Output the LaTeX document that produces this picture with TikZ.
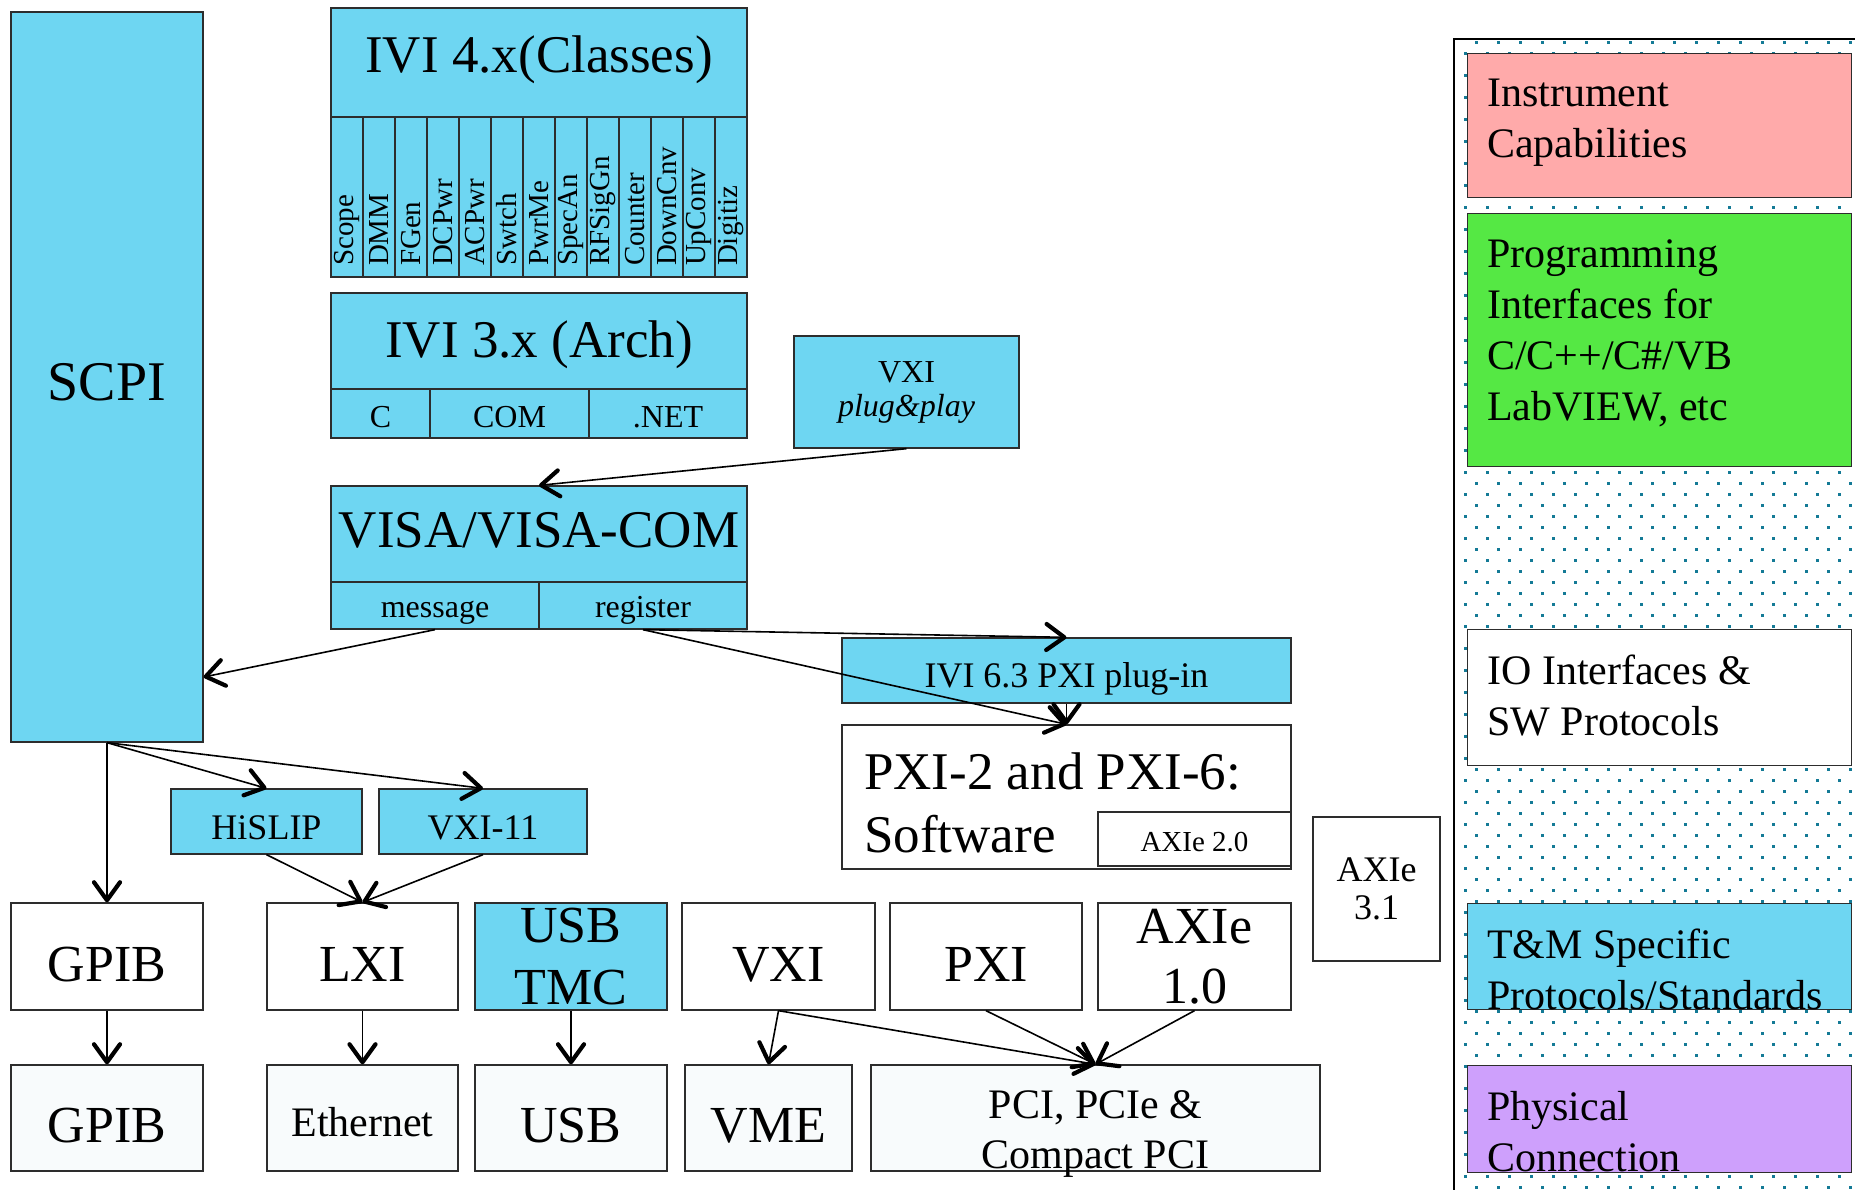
\documentclass[tikz,border=0pt]{standalone}
\usepackage{fontspec}
\setmainfont{Liberation Serif}
\usetikzlibrary{arrows.meta}

\definecolor{visablue}{RGB}{110,214,242}
\definecolor{cappink}{RGB}{255,170,170}
\definecolor{proggreen}{RGB}{85,232,68}
\definecolor{physpurple}{RGB}{206,160,252}
\definecolor{physwhite}{RGB}{248,251,252}
\definecolor{dotteal}{RGB}{20,122,150}
\definecolor{edge}{RGB}{45,45,45}

\newcommand\fsz[2]{\fontsize{#1}{#2}\selectfont} % #1 size, #2 baselineskip

\begin{document}
\begin{tikzpicture}[x=1pt, y=-1pt,
    blk/.style={draw=edge, line width=1.3pt, fill=visablue, inner sep=0pt, align=center},
    wbox/.style={blk, fill=white},
    pbox/.style={blk, fill=physwhite},
    oneline/.style={text height=#1, text depth=0pt},
    cls/.style={blk, rotate=90, minimum width=160pt, minimum height=32pt, inner xsep=11pt, text width=138pt, align=left, font=\fsz{29}{34}},
    legend/.style={draw=edge, line width=1.3pt, anchor=north west, minimum width=384pt},
    legtxt/.style={anchor=north west, inner sep=0pt, align=left, font=\fsz{42}{51}},
    conn/.style={line width=1.6pt, -{Straight Barb[length=18pt, width=26pt, line width=4.2pt, round]}}]
        \useasboundingbox (0,0) rectangle (1855,1190);

        % --------------------------------------------------
        % legend panel
        \foreach \j in {0,...,52}
            \foreach \i in {0,...,17} {
                \fill[dotteal] (1474.5+22*\i,41.5+22*\j) rectangle +(3,3);
                \fill[dotteal] (1463.5+22*\i,52.5+22*\j) rectangle +(3,3);
            }
        \draw[line width=1.8pt] (1454,1190) -- (1454,39) -- (1855,39);

        \node[legend, fill=cappink, minimum height=144pt] (capbox) at (1467,53) {};
        \node[legtxt] (captxt) at ([shift={(20,26)}]capbox.north west) {Instrument\\Capabilities};
        \node[legend, fill=proggreen, minimum height=253pt] (progbox) at (1467,213) {};
        \node[legtxt] (progtxt) at ([shift={(20,26)}]progbox.north west) {Programming\\Interfaces for\\C/C++/C\#/VB\\LabVIEW, etc};
        \node[legend, fill=white, minimum height=136pt] (iobox) at (1467,629) {};
        \node[legtxt] (iotxt) at ([shift={(20,26)}]iobox.north west) {IO Interfaces \&\\SW Protocols};
        \node[legend, fill=visablue, minimum height=106pt] (tmbox) at (1467,903) {};
        \node[legtxt] (tmtxt) at ([shift={(20,26)}]tmbox.north west) {T\&M Specific\\Protocols/Standards};
        \node[legend, fill=physpurple, minimum height=107pt] (physbox) at (1467,1065) {};
        \node[legtxt] (phystxt) at ([shift={(20,26)}]physbox.north west) {Physical\\Connection};

        % --------------------------------------------------
        % software stack
        \node[blk, oneline=46pt, minimum width=192pt, minimum height=730pt, font=\fsz{56}{67}] (scpi) at (107,377) {SCPI};

        \node[blk, oneline=21pt, minimum width=416pt, minimum height=109pt, font=\fsz{53}{64}] (ivi4) at (539,62.5) {IVI 4.x(Classes)};
        \node[cls] (scope) at (347,197) {Scope};
        \node[cls] (dmm) at (379,197) {DMM};
        \node[cls] (fgen) at (411,197) {FGen};
        \node[cls] (dcpwr) at (443,197) {DCPwr};
        \node[cls] (acpwr) at (475,197) {ACPwr};
        \node[cls] (swtch) at (507,197) {Swtch};
        \node[cls] (pwrme) at (539,197) {PwrMe};
        \node[cls] (specan) at (571,197) {SpecAn};
        \node[cls] (rfsiggn) at (603,197) {RFSigGn};
        \node[cls] (counter) at (635,197) {Counter};
        \node[cls] (downcnv) at (667,197) {DownCnv};
        \node[cls] (upconv) at (699,197) {UpConv};
        \node[cls] (digitiz) at (731,197) {Digitiz};

        \node[blk, oneline=32pt, minimum width=416pt, minimum height=96pt, font=\fsz{53}{64}] (ivi3) at (539,341) {IVI 3.x (Arch)};
        \node[blk, oneline=27pt, minimum width=99pt, minimum height=49pt, font=\fsz{32}{38}] (capi) at (380.5,413.5) {C};
        \node[blk, oneline=27pt, minimum width=159pt, minimum height=49pt, font=\fsz{32}{38}] (com) at (509.5,413.5) {COM};
        \node[blk, oneline=27pt, minimum width=158pt, minimum height=49pt, font=\fsz{32}{38}] (net) at (668,413.5) {.NET};

        \node[blk, minimum width=225pt, minimum height=112pt, font=\fsz{32}{34}] (vxipp) at (906.5,392) {VXI\\\textit{plug\&play}};

        \node[blk, oneline=26pt, minimum width=416pt, minimum height=96pt, font=\fsz{53}{64}] (visa) at (539,534) {VISA/VISA-COM};
        \node[blk, oneline=24pt, minimum width=208pt, minimum height=47pt, font=\fsz{32}{38}] (msg) at (435,605.5) {message};
        \node[blk, oneline=24pt, minimum width=208pt, minimum height=47pt, font=\fsz{32}{38}] (reg) at (643,605.5) {register};

        % --------------------------------------------------
        % pxi / axie software
        \node[blk, oneline=33pt, minimum width=449pt, minimum height=65pt, font=\fsz{36}{43}] (ivi63) at (1066.5,670.5) {IVI 6.3 PXI plug-in};
        \node[wbox, minimum width=449pt, minimum height=144pt] (pxi2) at (1066.5,797) {};
        \node[anchor=north west, inner sep=0pt, align=left, font=\fsz{53}{63}] (pxi2txt) at (864,753) {PXI-2 and PXI-6:\\Software};
        \node[wbox, oneline=24pt, minimum width=193pt, minimum height=54pt, font=\fsz{29}{35}] (axie2) at (1194.5,839) {AXIe 2.0};
        \node[wbox, minimum width=127pt, minimum height=144pt, font=\fsz{36}{38}] (axie3) at (1376.5,889) {AXIe\\3.1};

        \node[blk, oneline=35pt, minimum width=191pt, minimum height=65pt, font=\fsz{36}{43}] (hislip) at (266.5,821.5) {HiSLIP};
        \node[blk, oneline=35pt, minimum width=208pt, minimum height=65pt, font=\fsz{36}{43}] (vxi11) at (483,821.5) {VXI-11};

        % --------------------------------------------------
        % io interfaces
        \node[wbox, oneline=49pt, minimum width=192pt, minimum height=107pt, font=\fsz{52}{62}] (gpib) at (107,956.5) {GPIB};
        \node[wbox, oneline=49pt, minimum width=191pt, minimum height=107pt, font=\fsz{52}{62}] (lxi) at (362.5,956.5) {LXI};
        \node[blk, minimum width=192pt, minimum height=107pt, font=\fsz{52}{62}] (usbtmc) at (571,956.5) {USB\\TMC};
        \node[wbox, oneline=49pt, minimum width=193pt, minimum height=107pt, font=\fsz{52}{62}] (vxi) at (778.5,956.5) {VXI};
        \node[wbox, oneline=49pt, minimum width=192pt, minimum height=107pt, font=\fsz{52}{62}] (pxi) at (986,956.5) {PXI};
        \node[wbox, minimum width=193pt, minimum height=107pt, font=\fsz{52}{60}] (axie1) at (1194.5,956.5) {AXIe\\1.0};

        % physical connections
        \node[pbox, oneline=48pt, minimum width=192pt, minimum height=106pt, font=\fsz{52}{62}] (gpibc) at (107,1118) {GPIB};
        \node[pbox, oneline=36pt, minimum width=191pt, minimum height=106pt, font=\fsz{42}{50}] (eth) at (362.5,1118) {Ethernet};
        \node[pbox, oneline=48pt, minimum width=192pt, minimum height=106pt, font=\fsz{52}{62}] (usb) at (571,1118) {USB};
        \node[pbox, oneline=48pt, minimum width=167pt, minimum height=106pt, font=\fsz{52}{62}] (vme) at (768.5,1118) {VME};
        \node[pbox, minimum width=449pt, minimum height=106pt] (pci) at (1095.5,1118) {};
        \node[anchor=north, inner sep=0pt, align=center, font=\fsz{42}{50}] (pcitxt) at (1095.5,1090) {PCI, PCIe \&\\Compact PCI};

        % --------------------------------------------------
        % connectors
        \draw[conn] (vxipp.south) -- (visa.north);
        \draw[conn] (msg.south) -- ([shift={(0,300)}]scpi.east);
        \draw[conn] (reg.south) -- (ivi63.north);
        \draw[conn] (reg.south) -- (pxi2.north);
        \draw[conn] (ivi63.south) -- (pxi2.north);
        \draw[conn] (scpi.south) -- (gpib.north);
        \draw[conn] (scpi.south) -- (hislip.north);
        \draw[conn] (scpi.south) -- (vxi11.north);
        \draw[conn] (hislip.south) -- (lxi.north);
        \draw[conn] (vxi11.south) -- (lxi.north);
        \draw[conn] (gpib.south) -- (gpibc.north);
        \draw[conn] (lxi.south) -- (eth.north);
        \draw[conn] (usbtmc.south) -- (usb.north);
        \draw[conn] (vxi.south) -- (vme.north);
        \draw[conn] (vxi.south) -- (pci.north);
        \draw[conn] (pxi.south) -- (pci.north);
        \draw[conn] (axie1.south) -- (pci.north);
\end{tikzpicture}
\end{document}
